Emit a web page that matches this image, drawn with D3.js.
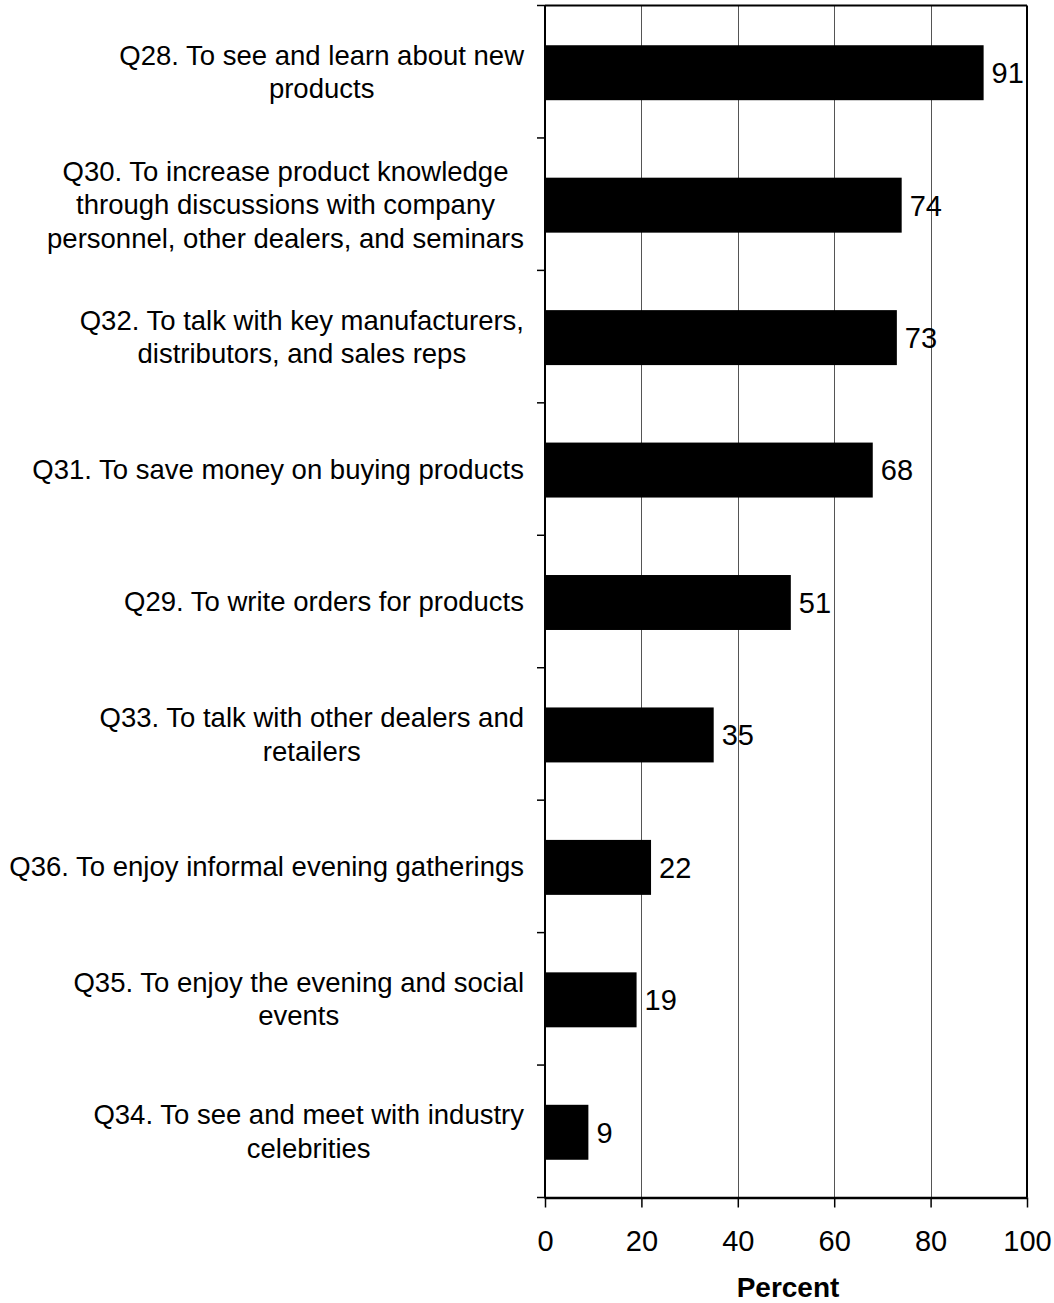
<!DOCTYPE html>
<html>
<head>
<meta charset="utf-8">
<script src="https://cdn.jsdelivr.net/npm/d3@7/dist/d3.min.js"></script>
<style>
  html, body { margin: 0; padding: 0; background: #fff; }
  svg { display: block; font-family: "Liberation Sans", Arial, sans-serif; }
</style>
</head>
<body>
<script>
// Reasons for attending, percent of respondents
const categories = [
  ["Q28. To see and learn about new", "products"],
  ["Q30. To increase product knowledge", "through discussions with company", "personnel, other dealers, and seminars"],
  ["Q32. To talk with key manufacturers,", "distributors, and sales reps"],
  ["Q31. To save money on buying products"],
  ["Q29. To write orders for products"],
  ["Q33. To talk with other dealers and", "retailers"],
  ["Q36. To enjoy informal evening gatherings"],
  ["Q35. To enjoy the evening and social", "events"],
  ["Q34. To see and meet with industry", "celebrities"]
];
const values = [91, 74, 73, 68, 51, 35, 22, 19, 9];
const xTicks = [0, 20, 40, 60, 80, 100];
const xTitle = "Percent";

const W = 1054, H = 1303;
const plotL = 545, plotR = 1027, plotT = 5.5, plotB = 1197.5;

const svg = d3.select("body").append("svg").attr("width", W).attr("height", H);

const x = d3.scaleLinear().domain([0, 100]).range([plotL, plotR]);
const keys = categories.map((c, i) => i);
const y = d3.scaleBand().domain(keys).range([plotT, plotB])
  .paddingInner(0.585).paddingOuter(0.2925);
const yStep = d3.scaleBand().domain(keys).range([plotT, plotB]);

// vertical gridlines
svg.append("g").selectAll("line").data(xTicks.slice(1, -1)).join("line")
  .attr("x1", d => Math.round(x(d)) + 0.5).attr("x2", d => Math.round(x(d)) + 0.5)
  .attr("y1", plotT).attr("y2", plotB)
  .attr("stroke", "#555").attr("stroke-width", 1);

// bars
svg.append("g").selectAll("rect").data(values).join("rect")
  .attr("x", x(0)).attr("y", (d, i) => y(i) + 1)
  .attr("width", d => x(d) - x(0)).attr("height", y.bandwidth())
  .attr("fill", "#000");

// value labels
svg.append("g").selectAll("text").data(values).join("text")
  .attr("x", d => x(d) + 8).attr("y", (d, i) => y(i) + 1 + y.bandwidth() / 2)
  .attr("dy", "0.36em")
  .attr("font-size", 29).attr("fill", "#000")
  .text(d => d);

// frame: top and right borders
svg.append("line").attr("x1", plotL).attr("x2", plotR).attr("y1", plotT).attr("y2", plotT)
  .attr("stroke", "#000").attr("stroke-width", 2);
svg.append("line").attr("x1", plotR).attr("x2", plotR).attr("y1", plotT).attr("y2", plotB)
  .attr("stroke", "#000").attr("stroke-width", 2);

// left axis with ticks at category boundaries
const bounds = d3.range(categories.length + 1).map(i => plotT + i * yStep.step());
svg.append("line").attr("x1", plotL).attr("x2", plotL).attr("y1", plotT).attr("y2", plotB + 1)
  .attr("stroke", "#000").attr("stroke-width", 2);
svg.append("g").selectAll("line").data(bounds).join("line")
  .attr("x1", plotL - 8).attr("x2", plotL).attr("y1", d => d).attr("y2", d => d)
  .attr("stroke", "#000").attr("stroke-width", 1.5);

// bottom axis
const xAxis = d3.axisBottom(x).tickValues(xTicks).tickSize(10).tickSizeOuter(0);
const gx = svg.append("g").attr("transform", `translate(0,${plotB})`).call(xAxis);
gx.select(".domain").attr("stroke", "#000").attr("stroke-width", 2.5);
gx.selectAll(".tick line").attr("stroke", "#000").attr("stroke-width", 1.5);
gx.selectAll(".tick text")
  .attr("y", 1251 - plotB).attr("dy", 0)
  .attr("font-size", 29).attr("font-family", "Liberation Sans, Arial, sans-serif").attr("fill", "#000");

// axis title
svg.append("text").attr("x", 788).attr("y", 1297)
  .attr("text-anchor", "middle").attr("font-size", 28).attr("font-weight", "bold")
  .text(xTitle);

// category labels: each block ends at the axis gap, lines centred within it
const lineH = 33.5;
const labelRight = 524;
const lab = svg.append("g");
categories.forEach((lines, i) => {
  const cy = yStep(i) + yStep.step() / 2;
  const t = lab.append("text").attr("text-anchor", "middle").attr("font-size", 27.5).attr("fill", "#000");
  const spans = lines.map((s, j) => t.append("tspan")
    .attr("y", cy + (j - (lines.length - 1) / 2) * lineH)
    .attr("dy", "0.36em").text(s));
  const maxW = d3.max(spans, sp => sp.node().getComputedTextLength());
  spans.forEach(sp => sp.attr("x", labelRight - maxW / 2));
});
</script>
</body>
</html>
